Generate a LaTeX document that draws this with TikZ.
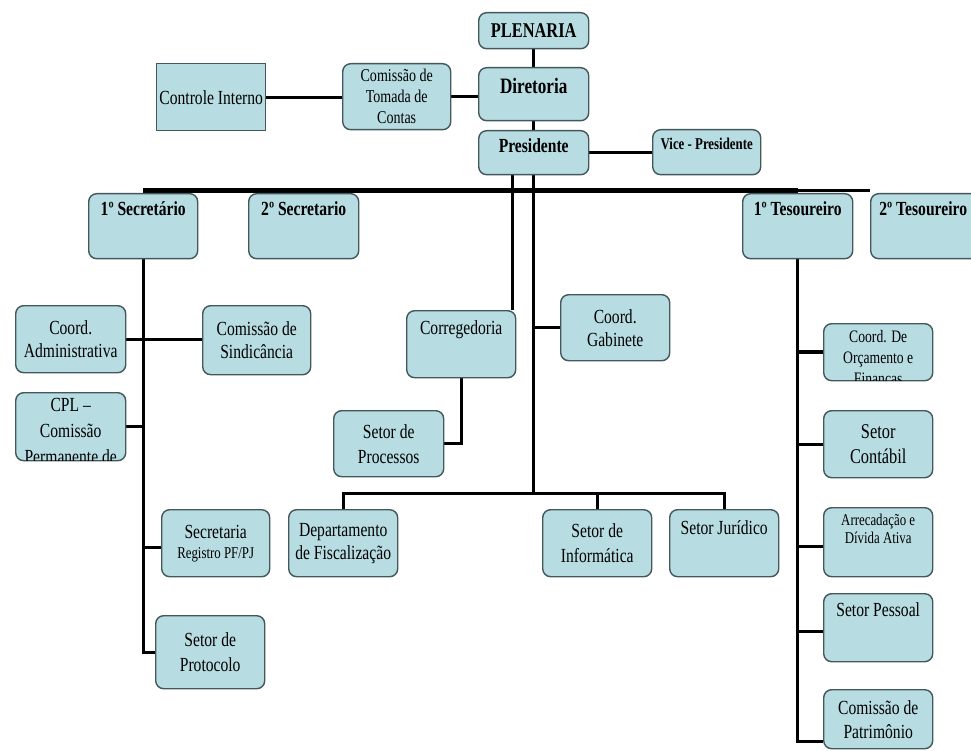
\documentclass[tikz,border=0pt]{standalone}
\usepackage{fontspec}
\setmainfont{Liberation Serif}[FakeStretch=0.78]
\usetikzlibrary{backgrounds}
\definecolor{boxfill}{HTML}{B7DDE3}
\definecolor{boxline}{HTML}{44575A}
\newcommand\toptext[4]{\node[anchor=north, inner sep=0pt, align=center, font=#3] (#1-t) at ([yshift=-#2]#1.north) {#4};}
\begin{document}
\begin{tikzpicture}[x=1pt,y=-1pt,
  box/.style={draw=boxline, line width=1.4pt, fill=boxfill, rounded corners=8pt,
    anchor=north west, inner sep=0pt, align=center,
    font=\fontsize{20}{23}\selectfont},
  sharpbox/.style={box, rounded corners=0pt},
  conn/.style={line width=3pt, black},
  mainbar/.style={line width=5pt, black}
]
\useasboundingbox (0,0) rectangle (971,751);
\clip (0,0) rectangle (971,751);

% ---- boxes ----
\node[box, minimum width=110pt, minimum height=36pt, font=\fontsize{21}{22}\selectfont\bfseries] (plen) at (478,12) {PLENARIA};
\node[box, minimum width=110pt, minimum height=53pt] (dir) at (478,67) {};
\node[box, minimum width=108pt, minimum height=66pt, font=\fontsize{18}{21}\selectfont] (com) at (342,63) {Comissão de\\Tomada de\\Contas};
\node[sharpbox, minimum width=109pt, minimum height=67pt] (ctrl) at (156,63) {Controle Interno};
\node[box, minimum width=110pt, minimum height=44pt] (pres) at (478,130) {};
\node[box, minimum width=108pt, minimum height=45pt] (vice) at (652,129) {};
\node[box, minimum width=109pt, minimum height=65pt] (sec1) at (88,193) {};
\node[box, minimum width=110pt, minimum height=65pt] (sec2) at (248,193) {};
\node[box, minimum width=110pt, minimum height=65pt] (tes1) at (742,193) {};
\node[box, minimum width=115pt, minimum height=65pt] (tes2) at (870,193) {};
\node[box, minimum width=110pt, minimum height=67pt] (coordA) at (15,305) {Coord.\\Administrativa};
\node[box, minimum width=108pt, minimum height=69pt] (sind) at (202,305) {Comissão de\\Sindicância};
\node[box, minimum width=110pt, minimum height=68pt] (cpl) at (15,392) {};
\node[box, minimum width=108pt, minimum height=67pt] (secr) at (161,509) {Secretaria\\[-3pt]{\fontsize{16.5}{18}\selectfont Registro PF/PJ}};
\node[box, minimum width=109pt, minimum height=73pt, font=\fontsize{20}{25}\selectfont] (prot) at (155,615) {Setor de\\Protocolo};
\node[box, minimum width=109pt, minimum height=67pt] (corr) at (406,310) {};
\node[box, minimum width=110pt, minimum height=66pt, font=\fontsize{20}{25}\selectfont] (proc) at (333,410) {Setor de\\Processos};
\node[box, minimum width=109pt, minimum height=66pt] (gab) at (560,294) {Coord.\\Gabinete};
\node[box, minimum width=109pt, minimum height=67pt] (dep) at (288,509) {Departamento\\de Fiscalização};
\node[box, minimum width=109pt, minimum height=67pt, font=\fontsize{20}{25}\selectfont] (inf) at (542,509) {Setor de\\Informática};
\node[box, minimum width=109pt, minimum height=67pt] (jur) at (669,509) {};
\node[box, minimum width=109pt, minimum height=57pt] (orc) at (823,323) {};
\node[box, minimum width=109pt, minimum height=67pt, font=\fontsize{21}{25}\selectfont] (cont) at (823,410) {Setor\\Contábil};
\node[box, minimum width=109pt, minimum height=69pt] (arr) at (823,507) {};
\node[box, minimum width=109pt, minimum height=68pt] (pess) at (823,593) {};
\node[box, minimum width=109pt, minimum height=59pt, font=\fontsize{20}{24}\selectfont] (pat) at (823,689) {Comissão de\\Patrimônio};

% ---- top-aligned texts ----
\toptext{dir}{11pt}{\fontsize{22}{22}\selectfont\bfseries}{Diretoria}
\toptext{pres}{8.5pt}{\fontsize{20}{22}\selectfont\bfseries}{Presidente}
\toptext{vice}{8.5pt}{\fontsize{16.5}{18}\selectfont\bfseries}{Vice - Presidente}
\toptext{sec1}{8.5pt}{\fontsize{20}{22}\selectfont\bfseries}{1º Secretário}
\toptext{sec2}{8.5pt}{\fontsize{20}{22}\selectfont\bfseries}{2º Secretario}
\toptext{tes1}{8.5pt}{\fontsize{20}{22}\selectfont\bfseries}{1º Tesoureiro}
\node[anchor=north, inner sep=0pt, font=\fontsize{20}{22}\selectfont\bfseries] (tes2-t) at ([yshift=-8.5pt,xshift=-5pt]tes2.north) {2º Tesoureiro};
\toptext{corr}{10.5pt}{\fontsize{20}{22}\selectfont}{Corregedoria}
\toptext{jur}{11.5pt}{\fontsize{20}{22}\selectfont}{Setor Jurídico}
\toptext{pess}{9.5pt}{\fontsize{20}{22}\selectfont}{Setor Pessoal}
\toptext{arr}{6.5pt}{\fontsize{16.5}{18}\selectfont}{Arrecadação e\\Dívida Ativa}

% ---- clipped texts ----
\begin{scope}
  \clip[rounded corners=7pt] ([shift={(1pt,1pt)}]cpl.south west) rectangle ([shift={(-1pt,-1pt)}]cpl.north east);
  \toptext{cpl}{6pt}{\fontsize{20}{26}\selectfont}{CPL –\\Comissão\\Permanente de}
\end{scope}
\begin{scope}
  \clip[rounded corners=7pt] ([shift={(1pt,1pt)}]orc.south west) rectangle ([shift={(-1pt,-1pt)}]orc.north east);
  \toptext{orc}{7.5pt}{\fontsize{17.5}{21}\selectfont}{Coord. De\\Orçamento e\\Finanças}
\end{scope}

% ---- connectors ----
\begin{scope}[on background layer]
  \draw[conn] (plen.south) -- (dir.north);
  \draw[conn] (dir.south) -- (pres.north);
  \draw[conn] (ctrl.east) -- (ctrl.east -| com.west);
  \draw[conn] (com.east) -- (com.east -| dir.west);
  \draw[conn] (pres.east) -- (pres.east -| vice.west);
  % main horizontal bar
  \coordinate (barL) at ([yshift=2pt]sec1.north);
  \draw[mainbar] (barL) -- (barL -| tes1.north);
  \draw[conn] (barL -| tes1.north) -- (barL -| tes2.west);
  % from Presidente downwards
  \coordinate (pl) at ([xshift=-21pt]pres.south);
  \draw[conn] (pl) -- (pl |- corr.north);
  \path (pres.south |- dep.north) ++(0,-16) coordinate (hub);
  \draw[conn] (pres.south) -- (hub);
  \draw[conn] (dep.north) |- (hub) -| (jur.north);
  \draw[conn] (inf.north) -- (inf.north |- hub);
  \draw[conn] (gab.west) -- (gab.west -| pres.south);
  \draw[conn] (corr.south) |- (proc.east);
  % 1o Secretario branch
  \draw[conn] (sec1.south) |- (prot.west);
  \draw[conn] (coordA.east) -- (coordA.east -| sind.west);
  \draw[conn] (cpl.east) -- (cpl.east -| sec1.south);
  \draw[conn] ([yshift=-4pt]secr.west) -- ([yshift=-4pt]secr.west -| sec1.south);
  % 1o Tesoureiro branch
  \path (pat.south west) ++(0,-8) coordinate (patc);
  \draw[conn] (tes1.south) |- (patc);
  \draw[line width=4pt] (orc.west) -- (orc.west -| tes1.south);
  \draw[conn] (cont.west) -- (cont.west -| tes1.south);
  \draw[conn] ([yshift=-4pt]arr.west) -- ([yshift=-4pt]arr.west -| tes1.south);
  \draw[conn] ([yshift=-4pt]pess.west) -- ([yshift=-4pt]pess.west -| tes1.south);
\end{scope}
\end{tikzpicture}
\end{document}
